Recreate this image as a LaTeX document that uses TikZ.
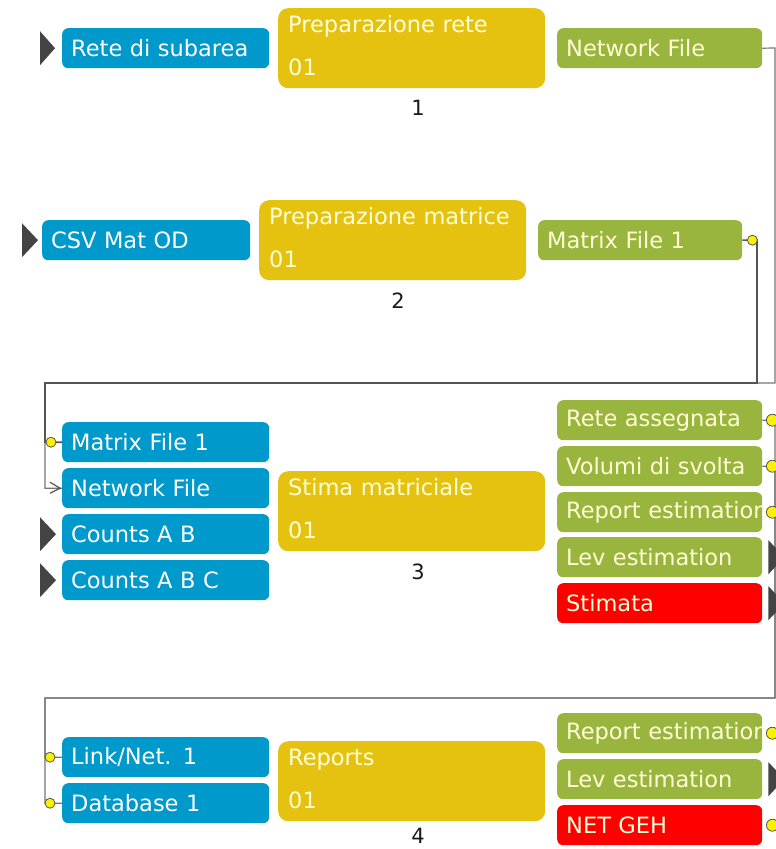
\documentclass[tikz,border=0pt]{standalone}
\usepackage{fontspec}
\usetikzlibrary{calc}
\newfontfamily\dv{DejaVu Sans}
\definecolor{cblue}{RGB}{0,153,204}
\definecolor{cyel}{RGB}{230,194,16}
\definecolor{cgreen}{RGB}{153,181,61}
\definecolor{cred}{RGB}{255,0,0}
\definecolor{cwire}{RGB}{85,85,85}
\definecolor{ctri}{RGB}{68,68,68}
\definecolor{ccream}{RGB}{255,255,214}
\definecolor{cdot}{RGB}{250,240,0}
\tikzset{
  boxbase/.style={anchor=north west, rounded corners=6pt, minimum height=40pt,
    inner xsep=9pt, inner ysep=0pt, align=left, font=\dv\fontsize{22.5}{27}\selectfont},
  inbox/.style={boxbase, fill=cblue, text=white, text width=189pt, minimum width=207pt},
  outbox/.style={boxbase, fill=cgreen, text=ccream, text width=187pt, minimum width=205pt},
  errbox/.style={boxbase, fill=cred, text=ccream, text width=187pt, minimum width=205pt},
  procbox/.style={anchor=north west, rounded corners=10pt, fill=cyel, text=ccream,
    minimum width=267pt, minimum height=80pt, text width=247pt, inner xsep=10pt,
    align=left, font=\dv\fontsize{22.5}{27}\selectfont},
  numlbl/.style={font=\dv\fontsize{21}{24}\selectfont, text=black!90},
  wire/.style={draw=cwire, line width=1.6pt},
  thinwire/.style={draw=cwire!80, line width=1.2pt},
  tri/.style={fill=ctri},
  ydot/.style={fill=cdot, draw=cwire, line width=0.8pt}
}
\begin{document}
\begin{tikzpicture}[x=1pt,y=-1pt]
\useasboundingbox (0,0) rectangle (776,849);
% ---- row 1
\node[inbox] (a1) at (62,28) {Rete di subarea};
\node[procbox] (p1) at (278,8) {Preparazione rete\\[16pt]01\\[-22pt]\mbox{}};
\node[outbox] (b1) at (557,28) {Network File};
\node[numlbl] (n1) at (418,108) {1};
% ---- row 2
\node[inbox, minimum width=208pt, text width=190pt] (a2) at (42,220) {CSV Mat OD};
\node[procbox] (p2) at (259,200) {Preparazione matrice\\[16pt]01\\[-22pt]\mbox{}};
\node[outbox, minimum width=204pt, text width=186pt] (b2) at (538,220) {Matrix File 1};
\node[numlbl] (n2) at (398,301) {2};
% ---- row 3
\node[inbox] (c1) at (62,422) {Matrix File 1};
\node[inbox] (c2) at (62,468) {Network File};
\node[inbox] (c3) at (62,514) {Counts A B};
\node[inbox] (c4) at (62,560) {Counts A B C};
\node[procbox] (p3) at (278,471) {Stima matriciale\\[16pt]01\\[-22pt]\mbox{}};
\node[numlbl] (n3) at (418,572) {3};
\node[outbox] (o1) at (557,400) {Rete assegnata};
\node[outbox] (o2) at (557,446) {Volumi di svolta};
\node[outbox] (o3) at (557,492) {\mbox{Report estimation}};
\node[outbox] (o4) at (557,537) {Lev estimation};
\node[errbox] (o5) at (557,583) {Stimata};
% ---- row 4
\node[inbox] (d1) at (62,737) {Link/Net. 1};
\node[inbox] (d2) at (62,783) {Database 1};
\node[procbox] (p4) at (278,741) {Reports\\[16pt]01\\[-22pt]\mbox{}};
\node[numlbl] (n4) at (418,836) {4};
\node[outbox] (e1) at (557,713) {\mbox{Report estimation}};
\node[outbox] (e2) at (557,759) {Lev estimation};
\node[errbox] (e3) at (557,805) {NET GEH};
% ---- bus coordinates
\coordinate (busA) at (45,383);
\coordinate (busB) at (45,698);
% ---- connectors
\draw[thinwire] (b1.east) -- (775,48) |- (busA) |- (c2.west);
\draw[wire] (b2.east) -- (757,240) |- (busA) |- (c1.west);
\draw[thinwire] (o1.east) -- (775,420) |- (busB) |- (d1.west);
\draw[thinwire] (o2.east) -- (775,466) |- (busB) |- (d2.west);
% ---- input triangles
\fill[tri] ($(a1.west)+(-22,-17)$) -- ++(15,17) -- ++(-15,17) -- cycle;
\fill[tri] ($(a2.west)+(-20,-17)$) -- ++(16,17) -- ++(-16,17) -- cycle;
\fill[tri] ($(c3.west)+(-22,-17)$) -- ++(16,17) -- ++(-16,17) -- cycle;
\fill[tri] ($(c4.west)+(-22,-17)$) -- ++(16,17) -- ++(-16,17) -- cycle;
% ---- output triangles (cut at edge)
\fill[tri] ($(o4.east)+(6,-17)$) -- ++(16,17) -- ++(-16,17) -- cycle;
\fill[tri] ($(o5.east)+(6,-17)$) -- ++(16,17) -- ++(-16,17) -- cycle;
\fill[tri] ($(e2.east)+(6,-17)$) -- ++(16,17) -- ++(-16,17) -- cycle;
% ---- connector glyphs
\path[ydot] ($(b2.east)+(10,0)$) circle (5);
\path[ydot] ($(c1.west)+(-11,0)$) circle (5);
\draw[cwire, line width=1.2pt] ($(c2.west)+(-12,-6)$) -- ($(c2.west)+(-2,0)$) -- ($(c2.west)+(-12,5)$);
\path[ydot] ($(d1.west)+(-12,0)$) circle (5);
\path[ydot] ($(d2.west)+(-12,0)$) circle (5);
\path[ydot] ($(o1.east)+(10,0)$) circle (6);
\path[ydot] ($(o2.east)+(10,0)$) circle (6);
\path[ydot] ($(o3.east)+(10,0)$) circle (6);
\path[ydot] ($(e1.east)+(10,0)$) circle (6);
\path[ydot] ($(e3.east)+(10,0)$) circle (6);
\end{tikzpicture}
\end{document}
